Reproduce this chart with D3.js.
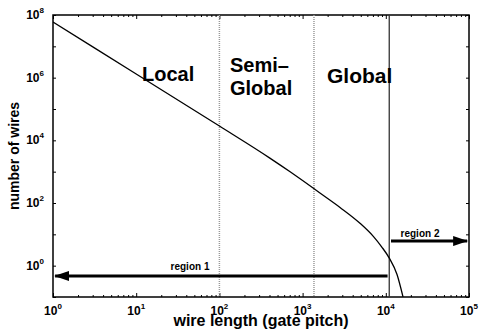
<!DOCTYPE html>
<html>
<head>
<meta charset="utf-8">
<script src="https://cdn.jsdelivr.net/npm/d3@7"></script>
<style>
  body { margin: 0; background: #fff; }
  svg { display: block; font-family: "Liberation Sans", Arial, Helvetica, sans-serif; font-weight: bold; }
</style>
</head>
<body>
<svg width="479" height="333"></svg>
<script>
// Data
const wireLength = [1, 10, 100, 400, 708, 1000, 1585, 2818, 4898, 7079, 8913, 10965, 13646, 16106];
const wireCount = [6.0e7, 1.31e6, 2.86e4, 2760, 990, 521, 216, 72, 22.5, 8.6, 4.0, 1.78, 0.52, 0.1];

const xDecades = [1, 10, 100, 1000, 10000, 100000];
const xExponents = ["0", "1", "2", "3", "4", "5"];
const yDecades = [1, 100, 1e4, 1e6, 1e8];
const yExponents = ["0", "2", "4", "6", "8"];

// region boundaries
const dottedLines = [100, 1370];
const solidLine = 11000;

const svg = d3.select("svg"),
  width = +svg.attr("width"),
  height = +svg.attr("height");

const margin = { top: 15, right: 10, bottom: 36, left: 53 };

const x = d3.scaleLog()
  .domain([1, 1e5])
  .range([margin.left, width - margin.right]);

const y = d3.scaleLog()
  .domain([0.1, 1e8])
  .range([height - margin.bottom, margin.top]);

svg.append("defs").append("clipPath")
  .attr("id", "plot")
  .append("rect")
  .attr("x", margin.left)
  .attr("y", margin.top)
  .attr("width", x.range()[1] - margin.left)
  .attr("height", y.range()[0] - margin.top);

// arrow head
svg.select("defs").append("marker")
  .attr("id", "head")
  .attr("markerUnits", "userSpaceOnUse")
  .attr("viewBox", "0 0 15 10")
  .attr("refX", 14)
  .attr("refY", 5)
  .attr("markerWidth", 15)
  .attr("markerHeight", 10)
  .attr("orient", "auto")
  .append("path")
  .attr("d", "M0,0 L15,5 L0,10 Z")
  .attr("fill", "#000");

// ticks, all pointing inward
const allX = x.ticks();
const minorX = allX.filter(d => !xDecades.includes(d));
const yTicks = d3.range(-1, 9).map(e => Math.pow(10, e));

svg.append("g")
  .attr("transform", `translate(0,${y.range()[0]})`)
  .call(d3.axisBottom(x).tickValues(minorX).tickSize(-2).tickFormat(""));
svg.append("g")
  .attr("transform", `translate(0,${y.range()[0]})`)
  .call(d3.axisBottom(x).tickValues(xDecades).tickSize(-4).tickFormat(""));
svg.append("g")
  .attr("transform", `translate(0,${margin.top})`)
  .call(d3.axisTop(x).tickValues(minorX).tickSize(-2).tickFormat(""));
svg.append("g")
  .attr("transform", `translate(0,${margin.top})`)
  .call(d3.axisTop(x).tickValues(xDecades).tickSize(-4).tickFormat(""));
svg.append("g")
  .attr("transform", `translate(${margin.left},0)`)
  .call(d3.axisLeft(y).tickValues(yTicks).tickSize(-3).tickFormat(""));
svg.append("g")
  .attr("transform", `translate(${x.range()[1]},0)`)
  .call(d3.axisRight(y).tickValues(yTicks).tickSize(-3).tickFormat(""));

svg.selectAll(".domain").remove();
svg.selectAll(".tick line").attr("stroke", "#000").attr("stroke-width", 1);

// frame
svg.append("rect")
  .attr("x", margin.left)
  .attr("y", margin.top)
  .attr("width", x.range()[1] - margin.left)
  .attr("height", y.range()[0] - margin.top)
  .attr("fill", "none")
  .attr("stroke", "#000")
  .attr("stroke-width", 1.5);

// tick labels with superscripts
const xLab = svg.append("g")
  .selectAll("text")
  .data(xDecades)
  .join("text")
  .attr("x", d => x(d))
  .attr("y", 315)
  .attr("text-anchor", "middle")
  .style("font-size", "12px");
xLab.append("tspan").text("10");
xLab.append("tspan").attr("dy", -6).style("font-size", "8px").text((d, i) => xExponents[i]);

const yLab = svg.append("g")
  .selectAll("text")
  .data(yDecades)
  .join("text")
  .attr("x", 44)
  .attr("y", d => y(d) + 4)
  .attr("text-anchor", "end")
  .style("font-size", "12px");
yLab.append("tspan").text("10");
yLab.append("tspan").attr("dy", -6).style("font-size", "8px").text((d, i) => yExponents[i]);

// axis titles
svg.append("text")
  .attr("x", (margin.left + x.range()[1]) / 2)
  .attr("y", 326)
  .attr("text-anchor", "middle")
  .style("font-size", "16px")
  .text("wire length (gate pitch)");

svg.append("text")
  .attr("transform", `translate(19,${(margin.top + y.range()[0]) / 2}) rotate(-90)`)
  .attr("text-anchor", "middle")
  .style("font-size", "14px")
  .text("number of wires");

// region separators
svg.append("g")
  .selectAll("line")
  .data(dottedLines)
  .join("line")
  .attr("x1", d => x(d))
  .attr("x2", d => x(d))
  .attr("y1", margin.top)
  .attr("y2", y.range()[0])
  .attr("stroke", "#999")
  .attr("stroke-width", 1.5)
  .attr("stroke-dasharray", "1,1");

svg.append("line")
  .attr("x1", x(solidLine))
  .attr("x2", x(solidLine))
  .attr("y1", margin.top)
  .attr("y2", y.range()[0])
  .attr("stroke", "#333")
  .attr("stroke-width", 1.3);

// the distribution
const line = d3.line()
  .x((d, i) => x(wireLength[i]))
  .y(d => y(d))
  .curve(d3.curveMonotoneX);

svg.append("path")
  .datum(wireCount)
  .attr("clip-path", "url(#plot)")
  .attr("fill", "none")
  .attr("stroke", "#000")
  .attr("stroke-width", 1.3)
  .attr("d", line);

// region names
svg.append("text")
  .attr("x", 142).attr("y", 81)
  .style("font-size", "20px")
  .text("Local");
svg.append("text")
  .attr("x", 230).attr("y", 72)
  .style("font-size", "20px")
  .text("Semi–");
svg.append("text")
  .attr("x", 230).attr("y", 95)
  .style("font-size", "20px")
  .text("Global");
svg.append("text")
  .attr("x", 327).attr("y", 83)
  .style("font-size", "21px")
  .text("Global");

// region arrows
const arrows = [
  { from: 10500, to: 1.06, at: 0.47, label: "region 1", lx: 190, ly: 270 },
  { from: 11550, to: 95000, at: 6.1, label: "region 2", lx: 420, ly: 237 }
];

svg.append("g")
  .selectAll("line")
  .data(arrows)
  .join("line")
  .attr("x1", d => x(d.from))
  .attr("x2", d => x(d.to))
  .attr("y1", d => y(d.at))
  .attr("y2", d => y(d.at))
  .attr("stroke", "#000")
  .attr("stroke-width", 3)
  .attr("marker-end", "url(#head)");

svg.append("g")
  .selectAll("text")
  .data(arrows)
  .join("text")
  .attr("x", d => d.lx)
  .attr("y", d => d.ly)
  .attr("text-anchor", "middle")
  .style("font-size", "10px")
  .text(d => d.label);
</script>
</body>
</html>
